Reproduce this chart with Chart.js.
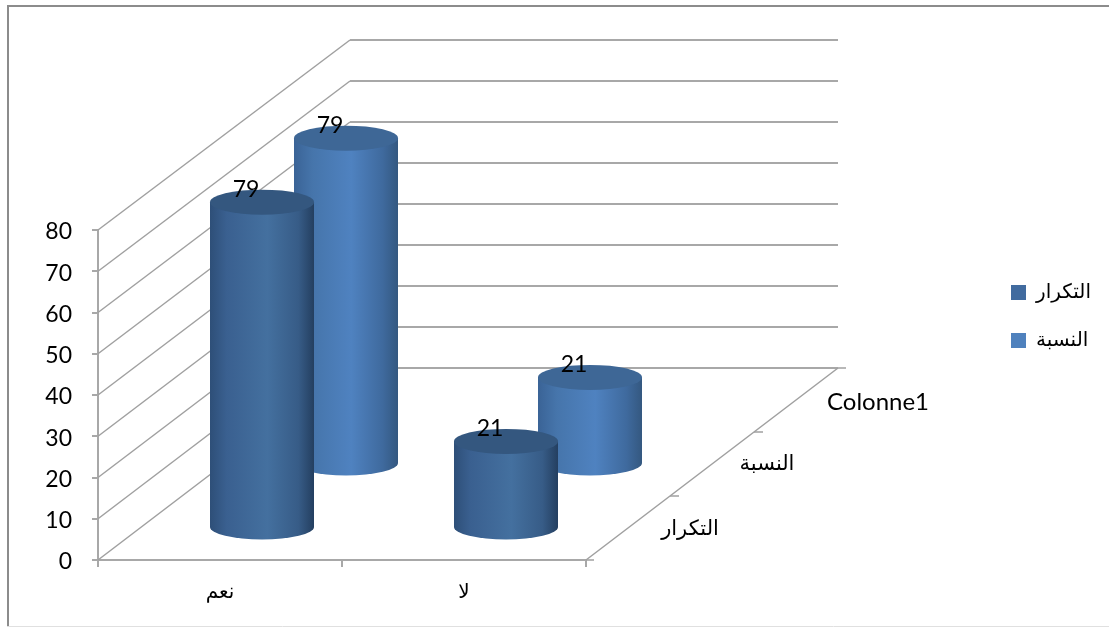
<!DOCTYPE html>
<html lang="ar">
<head>
<meta charset="utf-8">
<title>Colonne1</title>
<script src="https://cdn.jsdelivr.net/npm/chart.js@4"></script>
<style>
html,body{margin:0;padding:0;background:#fff;}
#wrap{width:1109px;height:627px;position:relative;}
canvas{display:block;}
</style>
</head>
<body>
<div id="wrap"><canvas id="chart" width="1109" height="627"></canvas></div>
<script>
// Answers on the front axis
const categories = ['نعم', 'لا'];
// Series, nearest first along the depth axis
const frequencyLabel = 'التكرار';
const frequencyValues = [79, 21];
const percentLabel = 'النسبة';
const percentValues = [79, 21];
// Depth axis entries; the last one holds no data
const depthLabels = ['التكرار', 'النسبة', 'Colonne1'];
const yTicks = [0, 10, 20, 30, 40, 50, 60, 70, 80];

const LATIN = 'Lato, "DejaVu Sans", sans-serif';
const ARABIC = '"DejaVu Sans", sans-serif';
const GRID = '#a8a8a8';
const GRID_DIAGONAL = '#a0a0a0';
// Projection of the full depth of the box onto the screen
const DEPTH_X = 252, DEPTH_Y = -192;
// The back wall is drawn very slightly shorter than the front axis
const BACK_SCALE = 328 / 330;
const ELLIPSE_RY = 12.5;
// Placement of each depth label relative to the middle of its lane
const depthLabelNudge = [[62, 2], [55, 1], [82, 2]];

const shades = [
  {stops: [[0, '#2e4f78'], [0.16, '#3a6090'], [0.55, '#44709f'], [0.85, '#375c87'], [1, '#243f60']], top: '#34577f'},
  {stops: [[0, '#3a6396'], [0.18, '#4675ab'], [0.55, '#4f82c0'], [0.85, '#3f6a9e'], [1, '#345880']], top: '#3e6796'}
];

function depthOffset(fraction) {
  return {x: DEPTH_X * fraction, y: DEPTH_Y * fraction};
}

function line(ctx, x1, y1, x2, y2) {
  ctx.beginPath();
  ctx.moveTo(x1, y1);
  ctx.lineTo(x2, y2);
  ctx.stroke();
}

// Page frame, side wall, back wall, floor and the depth axis
const box3d = {
  id: 'box3d',
  beforeDatasetsDraw(chart) {
    const {ctx, chartArea: a, scales: {y}} = chart;
    const off = depthOffset(1);
    const floorBack = a.bottom + off.y;
    ctx.save();
    ctx.strokeStyle = '#8c8c8c';
    ctx.lineWidth = 2;
    line(ctx, 8, 5, 8, 627);
    line(ctx, 7, 6, 1109, 6);
    ctx.strokeStyle = '#e0e0e0';
    ctx.lineWidth = 1;
    line(ctx, 7, 626.5, 1109, 626.5);

    yTicks.forEach(v => {
      const py = y.getPixelForValue(v);
      const backY = floorBack + (py - a.bottom) * BACK_SCALE;
      ctx.strokeStyle = GRID_DIAGONAL;
      ctx.lineWidth = 1.5;
      line(ctx, a.left, py, a.left + off.x, backY);
      ctx.strokeStyle = GRID;
      ctx.lineWidth = 2;
      line(ctx, a.left + off.x, backY, a.right + off.x, backY);
    });
    ctx.strokeStyle = GRID_DIAGONAL;
    ctx.lineWidth = 1.5;
    line(ctx, a.right, a.bottom, a.right + off.x, floorBack);
    line(ctx, a.right + off.x, floorBack, a.right + off.x + 8, floorBack);
    line(ctx, a.right, a.bottom, a.right + 8, a.bottom);
    depthLabels.forEach((label, i) => {
      if (i > 0) {
        const t = depthOffset(i / depthLabels.length);
        line(ctx, a.right + t.x, a.bottom + t.y, a.right + t.x + 9, a.bottom + t.y);
      }
      const c = depthOffset((i + 0.5) / depthLabels.length);
      ctx.fillStyle = '#000';
      ctx.textBaseline = 'middle';
      ctx.textAlign = 'center';
      ctx.font = label === 'Colonne1' ? '24px ' + LATIN : '21px ' + ARABIC;
      ctx.fillText(label, a.right + c.x + depthLabelNudge[i][0], a.bottom + c.y + depthLabelNudge[i][1]);
    });
    ctx.restore();
  },
  // Each bar element is rendered as a cylinder set back along the depth axis
  beforeDatasetDraw(chart, args) {
    const {ctx} = chart;
    const meta = args.meta;
    const shade = shades[args.index];
    const off = depthOffset((args.index + 0.5) / depthLabels.length);
    const values = chart.data.datasets[args.index].data;
    meta.data.forEach((bar, i) => {
      const w = bar.width;
      const rx = w / 2;
      const cx = bar.x + off.x;
      const top = bar.y + off.y;
      const base = bar.base + off.y;
      const g = ctx.createLinearGradient(cx - rx, 0, cx + rx, 0);
      shade.stops.forEach(s => g.addColorStop(s[0], s[1]));
      ctx.save();
      ctx.fillStyle = g;
      ctx.beginPath();
      ctx.moveTo(cx - rx, top);
      ctx.lineTo(cx - rx, base);
      ctx.ellipse(cx, base, rx, ELLIPSE_RY, 0, Math.PI, 0, true);
      ctx.lineTo(cx + rx, top);
      ctx.closePath();
      ctx.fill();
      ctx.fillStyle = shade.top;
      ctx.beginPath();
      ctx.ellipse(cx, top, rx, ELLIPSE_RY, 0, 0, Math.PI * 2);
      ctx.fill();
      ctx.fillStyle = '#000';
      ctx.font = '23px ' + LATIN;
      ctx.textAlign = 'center';
      ctx.textBaseline = 'middle';
      ctx.fillText(String(values[i]), cx - 16, top - 13);
      ctx.restore();
    });
    return false;
  },
  // The legend keeps the space right of the plot and sits at a set place there
  beforeLayout(chart) {
    const legend = chart.legend;
    if (legend && !legend._wrappedFit) {
      const fit = legend.fit;
      legend.fit = function () {
        fit.call(this);
        this.width = 523;
      };
      legend._wrappedFit = true;
    }
  },
  afterLayout(chart) {
    const legend = chart.legend;
    legend.left = 983;
    legend.right = 1109;
    legend.top = 254.5;
    legend.bottom = 400;
  }
};

new Chart(document.getElementById('chart'), {
  type: 'bar',
  plugins: [box3d],
  data: {
    labels: categories,
    datasets: [
      {label: frequencyLabel, data: frequencyValues, backgroundColor: '#416b9f', grouped: false,
       barPercentage: 104 / 244, categoryPercentage: 1},
      {label: percentLabel, data: percentValues, backgroundColor: '#4f81bd', grouped: false,
       barPercentage: 104 / 244, categoryPercentage: 1}
    ]
  },
  options: {
    responsive: false,
    animation: false,
    layout: {padding: {left: 38, top: 230, right: 0, bottom: 0}},
    plugins: {
      tooltip: {enabled: false},
      legend: {
        position: 'right',
        align: 'start',
        labels: {
          boxWidth: 15, boxHeight: 15, padding: 28, color: '#000',
          font: {family: ARABIC, size: 20, lineHeight: 1}
        }
      }
    },
    scales: {
      x: {
        afterFit(s) { s.height = 67; },
        border: {color: GRID, width: 2},
        grid: {drawOnChartArea: false, color: GRID, tickLength: 7, lineWidth: 2},
        ticks: {color: '#000', padding: 14, maxRotation: 0, font: {family: ARABIC, size: 20}}
      },
      y: {
        min: 0, max: 80,
        afterFit(s) { s.width = 60; },
        afterBuildTicks(s) { s.ticks = yTicks.map(v => ({value: v})); },
        border: {color: GRID, width: 2},
        grid: {drawOnChartArea: false, color: GRID, tickLength: 6, lineWidth: 2},
        ticks: {color: '#000', padding: 20, labelOffset: 2, font: {family: LATIN, size: 23}}
      }
    }
  }
});
</script>
</body>
</html>
